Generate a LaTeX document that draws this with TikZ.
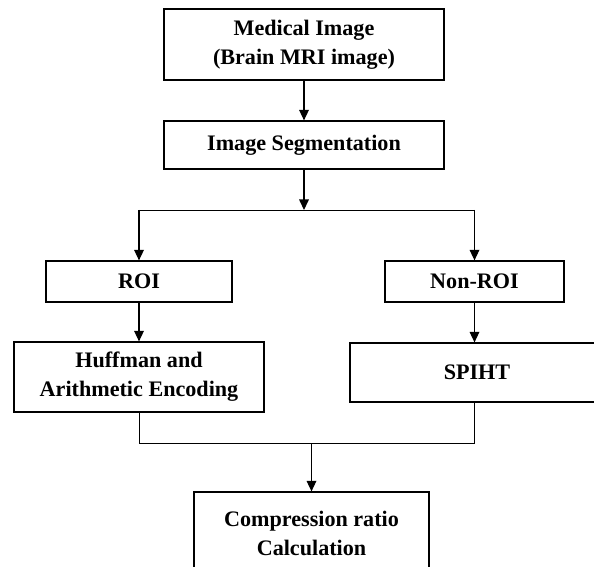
\documentclass[tikz,border=0pt]{standalone}
\usepackage{fontspec}
\setmainfont{Liberation Serif}
\usetikzlibrary{positioning,arrows.meta}

\tikzset{
  block/.style={draw, line width=0.7pt, inner sep=0pt, align=center,
    font=\bfseries\fontsize{12.6}{16.5}\selectfont},
  arr/.style={-{Triangle[length=6pt,width=5.5pt]}, line width=0.7pt}
}

\begin{document}
\begin{tikzpicture}[x=0.02cm, y=-0.02cm]
        \useasboundingbox (0,0) rectangle (594,567);
        \clip (0,0) rectangle (594,567);

        % blocks
        \node[block, minimum width=5.6cm, minimum height=1.42cm] (med) at (304,44.5) {Medical Image\\(Brain MRI image)};
        \node[block, minimum width=5.6cm, minimum height=0.96cm] (seg) at (304,145) {Image Segmentation};
        \node[block, minimum width=3.72cm, minimum height=0.82cm] (roi) at (139,281.5) {ROI};
        \node[block, minimum width=3.58cm, minimum height=0.82cm] (nroi) at (474.5,281.5) {Non-ROI};
        \node[block, minimum width=5.0cm, minimum height=1.4cm] (huff) at (139,377) {Huffman and\\Arithmetic Encoding};
        \node[block, minimum width=5.08cm, minimum height=1.18cm] (spiht) at (477,372.5) {SPIHT};
        \node[block, minimum width=4.7cm, minimum height=1.64cm] (comp) at (311.5,533) {Compression ratio\\Calculation};

        % split
        \coordinate (fork) at (304,210);
        \draw[arr] (med) -- (seg);
        \draw[arr] (seg) -- (fork);
        \draw (roi.north |- fork) -- (nroi.north |- fork);
        \draw[arr] (roi.north |- fork) -- (roi);
        \draw[arr] (nroi.north |- fork) -- (nroi);
        \draw[arr] (roi) -- (huff);
        \draw[arr] (nroi.south) -- (nroi.south |- spiht.north);

        % join
        \coordinate (join) at (311.5,443);
        \draw (huff.south) -- (huff.south |- join) -| (spiht.south -| nroi.south);
        \draw[arr] (join) -- (comp);
\end{tikzpicture}
\end{document}
